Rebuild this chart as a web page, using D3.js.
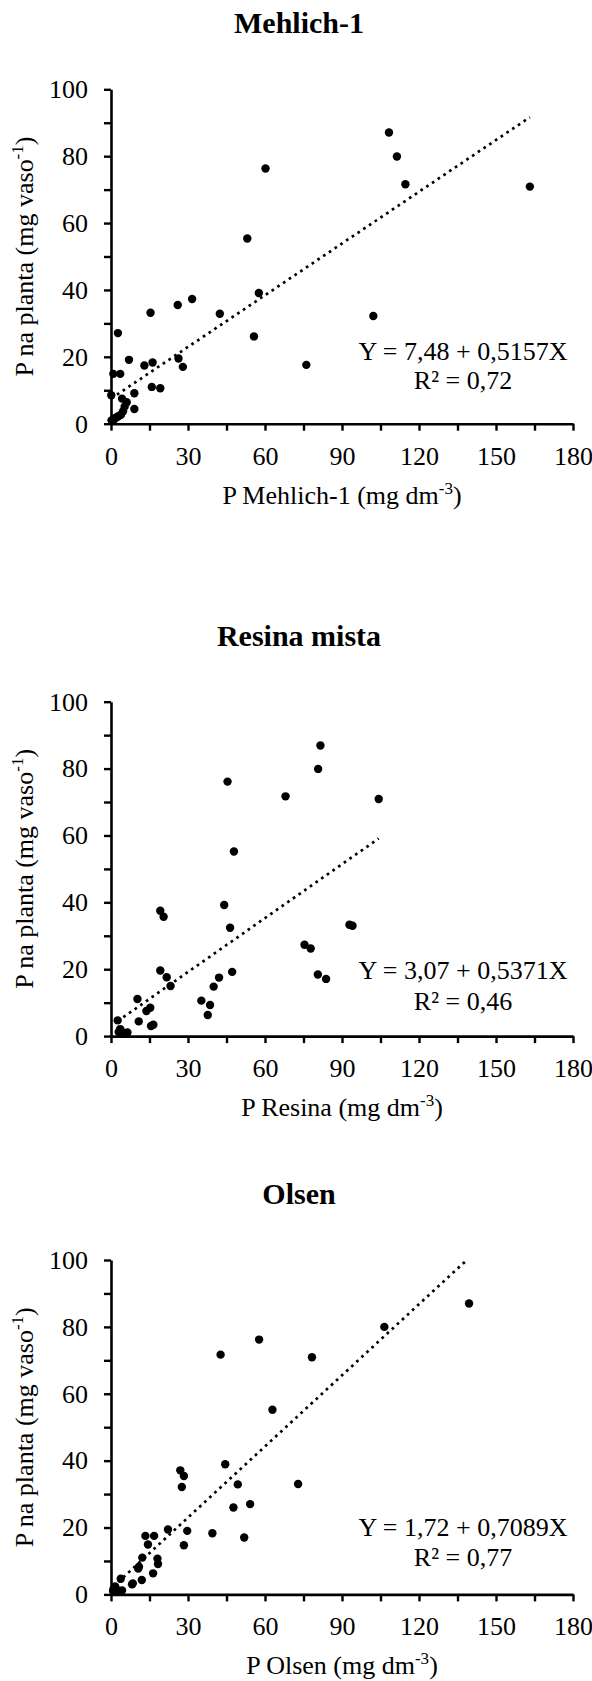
<!DOCTYPE html>
<html>
<head>
<meta charset="utf-8">
<script src="https://cdn.jsdelivr.net/npm/d3@7"></script>
<style>
  html, body { margin: 0; padding: 0; background: #fff; }
  svg, text { font-family: "Liberation Serif", "Times New Roman", Times, serif; fill: #000; }
</style>
</head>
<body>
<script>
// P extracted by each method (mg dm-3) vs. P accumulated in the plant (mg vaso-1)
const mehlichX = [108.3,111.4,114.7,163.2,60.2,53.1,57.6,31.6,26.0,15.4,42.4,102.2,2.7,55.7,7.0,26.3,13.0,16.2,28.0,76.1,0.9,3.6,15.9,19.2,9.1,0.1,4.3,6.1,9.1,5.3,4.7,3.9,2.4,1.2,0.2,1.7,3.0];
const mehlichY = [87.1,79.9,71.6,70.9,76.3,55.4,39.1,37.3,35.5,33.2,32.9,32.2,27.1,26.1,19.1,19.5,17.4,18.3,17.0,17.6,14.9,14.9,11.0,10.6,9.1,8.5,7.5,6.4,4.4,5.1,3.7,2.7,2.0,1.3,1.0,1.7,2.3];

const resinaX = [81.6,80.7,45.4,68.0,104.3,47.9,44.1,19.2,20.5,46.4,92.9,94.1,75.4,77.8,19.2,47.2,21.7,42.1,80.6,83.8,23.2,40.0,10.3,35.2,38.6,37.7,15.3,13.8,10.8,2.6,15.6,16.5,3.6,4.0,6.4,4.9,3.0];
const resinaY = [86.9,79.9,76.1,71.7,70.9,55.2,39.2,37.5,35.7,32.4,33.3,33.0,27.3,26.2,19.6,19.2,17.6,17.5,18.4,17.1,15.0,14.8,11.1,10.6,9.3,6.3,8.5,7.5,4.4,4.7,3.0,3.4,2.1,1.4,1.1,0.9,1.2];

const olsenX = [139.5,106.5,42.7,57.7,78.3,62.9,44.5,27.0,28.4,27.6,49.4,72.9,54.2,47.7,22.2,29.7,39.5,51.9,13.4,16.8,14.4,28.4,12.2,18.1,18.3,10.9,10.6,16.4,12.0,3.8,8.5,8.2,1.6,1.0,2.4,4.3,3.0,0.8];
const olsenY = [87.0,80.0,71.7,76.2,70.9,55.2,38.9,37.1,35.4,32.1,32.9,33.0,27.0,26.0,19.4,19.0,18.3,17.0,17.5,17.5,14.9,14.7,11.0,10.7,9.1,8.3,7.7,6.3,4.3,4.7,3.3,3.0,2.4,1.7,1.3,1.2,0.9,1.0];

// Panel texts and fitted regressions
const titles = ["Mehlich-1", "Resina mista", "Olsen"];
const xTitles = ["P Mehlich-1 (mg dm", "P Resina (mg dm", "P Olsen (mg dm"];
const yTitle = "P na planta (mg vaso";
const intercepts = [7.48, 3.07, 1.72];
const slopes = [0.5157, 0.5371, 0.7089];
const rSquared = [0.72, 0.46, 0.77];

// Axis ticks
const xTickValues = [0, 15, 30, 45, 60, 75, 90, 105, 120, 135, 150, 165, 180];
const xTickLabels = [0, 30, 60, 90, 120, 150, 180];
const yTickValues = [0, 10, 20, 30, 40, 50, 60, 70, 80, 90, 100];
const yTickLabels = [0, 20, 40, 60, 80, 100];

const xsData = [mehlichX, resinaX, olsenX];
const ysData = [mehlichY, resinaY, olsenY];

// Layout
const W = 592, H = 1681;
const plotLeft = 111, plotRight = 573, plotH = 334.4;
const plotTops = [89.3, 701.7, 1260];
const eqOffsets = [[63.3, 34.9], [56.7, 26.6], [58.3, 28.3]]; // baseline distances above the x axis
const fontSize = 26;
const serif = "Liberation Serif, Times New Roman, Times, serif";

const svg = d3.select("body").append("svg")
  .attr("width", W).attr("height", H)
  .attr("viewBox", `0 0 ${W} ${H}`)
  .attr("font-family", serif);

const x = d3.scaleLinear().domain([0, 180]).range([plotLeft, plotRight]);
const fmt = (v, d) => v.toFixed(d).replace(".", ",");

titles.forEach((title, i) => {
  const top = plotTops[i];
  const bottom = top + plotH;
  const y = d3.scaleLinear().domain([0, 100]).range([bottom, top]);
  const g = svg.append("g");

  // Clip region for the fitted line (trend stays inside the axis range)
  const clipId = `plot-clip-${i}`;
  svg.append("clipPath").attr("id", clipId)
    .append("rect")
    .attr("x", plotLeft).attr("y", top)
    .attr("width", plotRight - plotLeft).attr("height", plotH);

  // Title
  g.append("text")
    .attr("x", (plotLeft + plotRight) / 2 - 43)
    .attr("y", top - 56)
    .attr("text-anchor", "middle")
    .attr("font-size", 30)
    .attr("font-weight", "bold")
    .text(title);

  // Y axis
  const yAxis = g.append("g")
    .attr("transform", `translate(${plotLeft},0)`)
    .call(d3.axisLeft(y)
      .tickValues(yTickValues)
      .tickSize(7)
      .tickSizeOuter(0)
      .tickPadding(16)
      .tickFormat(d => yTickLabels.includes(d) ? d : ""));

  // X axis
  const xAxis = g.append("g")
    .attr("transform", `translate(0,${bottom})`)
    .call(d3.axisBottom(x)
      .tickValues(xTickValues)
      .tickSize(7)
      .tickSizeOuter(0)
      .tickFormat(d => xTickLabels.includes(d) ? d : ""));

  [yAxis, xAxis].forEach(ax => {
    ax.attr("font-family", serif);
    ax.select(".domain").attr("stroke", "#000").attr("stroke-width", 2.6);
    ax.selectAll(".tick line").attr("stroke", "#000").attr("stroke-width", 2.4);
    ax.selectAll(".tick text")
      .attr("font-size", fontSize)
      .attr("font-family", serif)
      .attr("fill", "#000");
  });
  xAxis.selectAll(".tick text").attr("y", 41).attr("dy", null);

  // Axis titles
  const xt = g.append("text")
    .attr("x", (plotLeft + plotRight) / 2)
    .attr("y", bottom + 80)
    .attr("text-anchor", "middle")
    .attr("font-size", fontSize);
  xt.append("tspan").text(xTitles[i]);
  xt.append("tspan").attr("font-size", 17).attr("dy", -10).text("-3");
  xt.append("tspan").attr("dy", 10).text(")");

  const yt = g.append("text")
    .attr("transform", `translate(33,${(top + bottom) / 2}) rotate(-90)`)
    .attr("text-anchor", "middle")
    .attr("font-size", fontSize);
  yt.append("tspan").text(yTitle);
  yt.append("tspan").attr("font-size", 17).attr("dy", -10).text("-1");
  yt.append("tspan").attr("dy", 10).text(")");

  // Points
  const pts = xsData[i].map((v, k) => ({ x: v, y: ysData[i][k] }));
  g.append("g").selectAll("circle")
    .data(pts)
    .join("circle")
    .attr("cx", d => x(d.x))
    .attr("cy", d => y(d.y))
    .attr("r", 4.2)
    .attr("fill", "#000");

  // Fitted line over the observed range
  const a = intercepts[i], b = slopes[i];
  const ext = d3.extent(xsData[i]);
  const line = d3.line().x(d => x(d)).y(d => y(a + b * d));
  g.append("path")
    .attr("d", line(ext))
    .attr("clip-path", `url(#${clipId})`)
    .attr("fill", "none")
    .attr("stroke", "#000")
    .attr("stroke-width", 2.7)
    .attr("stroke-dasharray", "2.7,4.2");

  // Equation and coefficient of determination
  const cx = 463;
  g.append("text")
    .attr("x", cx).attr("y", bottom - eqOffsets[i][0])
    .attr("text-anchor", "middle")
    .attr("font-size", fontSize)
    .text(`Y = ${fmt(a, 2)} + ${fmt(b, 4)}X`);
  g.append("text")
    .attr("x", cx).attr("y", bottom - eqOffsets[i][1])
    .attr("text-anchor", "middle")
    .attr("font-size", fontSize)
    .text(`R² = ${fmt(rSquared[i], 2)}`);
});
</script>
</body>
</html>
